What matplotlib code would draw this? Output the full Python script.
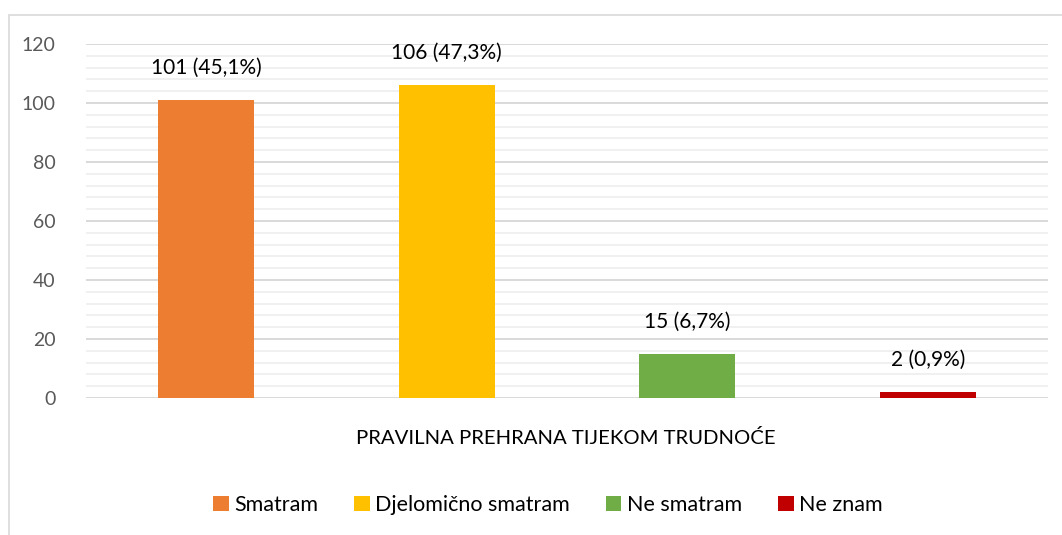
import matplotlib.pyplot as plt
from matplotlib.patches import Rectangle
from matplotlib.ticker import MultipleLocator

categories = ["Smatram", "Djelomično smatram", "Ne smatram", "Ne znam"]
counts = [101, 106, 15, 2]
labels = ["101 (45,1%)", "106 (47,3%)", "15 (6,7%)", "2 (0,9%)"]
colors = ["#ED7D31", "#FFC000", "#70AD47", "#C00000"]
x_title = "PRAVILNA PREHRANA TIJEKOM TRUDNOĆE"
y_ticks = [0, 20, 40, 60, 80, 100, 120]

plt.rcParams["font.family"] = ["Lato", "DejaVu Sans"]

W, H = 1062, 535
fig = plt.figure(figsize=(W / 100, H / 100), dpi=100)

# chart frame (top and left edges visible)
fig.add_artist(Rectangle((9 / W, -0.1), 1.2, (H - 15) / H + 0.1,
                         transform=fig.transFigure, fill=False,
                         edgecolor="#d9d9d9", linewidth=1.2))

ax = fig.add_axes([86 / W, (H - 398) / H, (1048 - 86) / W, (398 - 44) / H])
xs = list(range(len(categories)))
bars = ax.bar(xs, counts, width=0.4, color=colors, label=categories, zorder=3)

for xi, v, t in zip(xs, counts, labels):
    ax.annotate(t, (xi, v), xytext=(0, 16), textcoords="offset points",
                ha="center", va="bottom", fontsize=15, color="#000000")

ax.set_xlim(-0.5, len(categories) - 0.5)
ax.set_ylim(0, 120)
ax.set_yticks(y_ticks)
ax.yaxis.set_minor_locator(MultipleLocator(4))
ax.grid(axis="y", which="major", color="#d9d9d9", linewidth=1.4, zorder=0)
ax.grid(axis="y", which="minor", color="#f0f0f0", linewidth=1.4, zorder=0)
ax.tick_params(axis="y", which="both", length=0, labelsize=14,
               labelcolor="#595959", pad=22)
ax.set_xticks([])
for s in ax.spines.values():
    s.set_visible(False)

fig.text(566 / W, (H - 438) / H, x_title, ha="center", va="center",
         fontsize=14.6, color="#000000")

leg = fig.legend(handles=bars, labels=categories, loc="center",
                 bbox_to_anchor=(548 / W, (H - 505) / H), ncol=4,
                 frameon=False, fontsize=15.5, handlelength=0.7,
                 handleheight=0.7, handletextpad=0.25, columnspacing=1.7)

fig.savefig("out.png", dpi=100, facecolor="white")
